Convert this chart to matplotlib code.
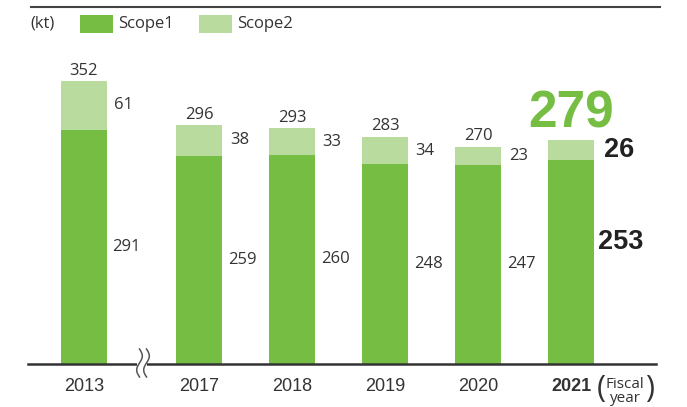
import matplotlib
matplotlib.use("Agg")
import matplotlib.pyplot as plt
import numpy as np
from matplotlib.patches import Rectangle
from matplotlib.lines import Line2D

# data (kt)
years = ["2013", "2017", "2018", "2019", "2020", "2021"]
scope1 = [291, 259, 260, 248, 247, 253]
scope2 = [61, 38, 33, 34, 23, 26]
totals = [352, 296, 293, 283, 270, 279]

DARK = "#76BE43"
LIGHT = "#BADB9E"
TXT = "#333333"
W, H = 687, 407


def fx(x):
    return x / W


def fy(y):
    return 1 - y / H


fig = plt.figure(figsize=(6.87, 4.07), dpi=100)
# axes: left 28px, right 656px, baseline at 363.7px, top at 7px
ax = fig.add_axes([fx(28), fy(363.7), fx(656) - fx(28), fy(7) - fy(363.7)])

# x positions: gap after 2013 for the axis break
gap = 1.24
xpos = np.array([0] + [gap + i for i in range(len(years) - 1)])
bw = 0.495

ax.bar(xpos, scope1, width=bw, color=DARK, zorder=2)
ax.bar(xpos, scope2, width=bw, bottom=scope1, color=LIGHT, zorder=2)

ax.set_xlim(-0.602, 6.151)
ax.set_ylim(0, 444)

for s in ["top", "left", "right"]:
    ax.spines[s].set_visible(False)
ax.spines["bottom"].set_color("#333333")
ax.spines["bottom"].set_linewidth(1.8)
ax.set_yticks([])
ax.set_xticks(xpos)
ax.tick_params(axis="x", length=0, pad=10)
ax.set_xticklabels(years, fontsize=13, color=TXT, family="Liberation Sans")
ax.get_xticklabels()[-1].set_fontweight("bold")

lab = dict(family="Open Sans", fontsize=12, color=TXT)
side = bw / 2 + 0.08
for i, (x, s1, s2, t) in enumerate(zip(xpos, scope1, scope2, totals)):
    if i == len(years) - 1:
        ax.text(x, t + 1, str(t), ha="center", va="bottom", fontsize=37,
                fontweight="bold", color=DARK, family="Liberation Sans")
        ax.text(x + bw / 2 + 0.1, s1 + s2 / 2, str(s2), ha="left", va="center",
                fontsize=19.5, fontweight="bold", color="#222222", family="Liberation Sans")
        ax.text(x + bw / 2 + 0.04, s1 * 0.6, str(s1), ha="left", va="center",
                fontsize=19.5, fontweight="bold", color="#222222", family="Liberation Sans")
    else:
        ax.text(x, t + 3, str(t), ha="center", va="bottom", **lab)
        ax.text(x + side, s1 + s2 / 2, str(s2), ha="left", va="center", **lab)
        ax.text(x + side - 0.02, s1 / 2, str(s1), ha="left", va="center", **lab)

# axis break marks on the baseline
fig.add_artist(Rectangle((fx(137), fy(366.5)), fx(147) - fx(137), fy(361) - fy(366.5),
                         transform=fig.transFigure, facecolor="white", edgecolor="none", zorder=5))
tt = np.linspace(0, 1, 60)
for x0 in [139.5, 146.5]:
    xs = x0 + 2.8 * np.sin(2 * np.pi * tt)
    ys = 349 + 28 * tt
    fig.add_artist(Line2D(fx(xs), fy(ys), transform=fig.transFigure,
                          color="#555555", lw=1.1, zorder=6))

# top rule
fig.add_artist(Line2D([fx(31), fx(660)], [fy(7), fy(7)], transform=fig.transFigure,
                      color="#444444", lw=1.5))

# legend
fig.text(fx(30), fy(24), "(kt)", ha="left", va="center", **lab)
fig.add_artist(Rectangle((fx(80), fy(33)), fx(113) - fx(80), fy(15) - fy(33),
                         transform=fig.transFigure, facecolor=DARK, edgecolor="none"))
fig.text(fx(118), fy(24), "Scope1", ha="left", va="center", **lab)
fig.add_artist(Rectangle((fx(199), fy(33)), fx(232) - fx(199), fy(15) - fy(33),
                         transform=fig.transFigure, facecolor=LIGHT, edgecolor="none"))
fig.text(fx(237), fy(24), "Scope2", ha="left", va="center", **lab)

# fiscal year note
fig.text(fx(625), fy(384), "Fiscal", ha="center", va="center", family="Open Sans",
         fontsize=11, color=TXT)
fig.text(fx(625), fy(398), "year", ha="center", va="center", family="Open Sans",
         fontsize=11, color=TXT)
fig.text(fx(601), fy(389), "(", ha="center", va="center", family="Open Sans",
         fontsize=22, color=TXT)
fig.text(fx(650), fy(389), ")", ha="center", va="center", family="Open Sans",
         fontsize=22, color=TXT)

fig.savefig("out.png", dpi=100)
